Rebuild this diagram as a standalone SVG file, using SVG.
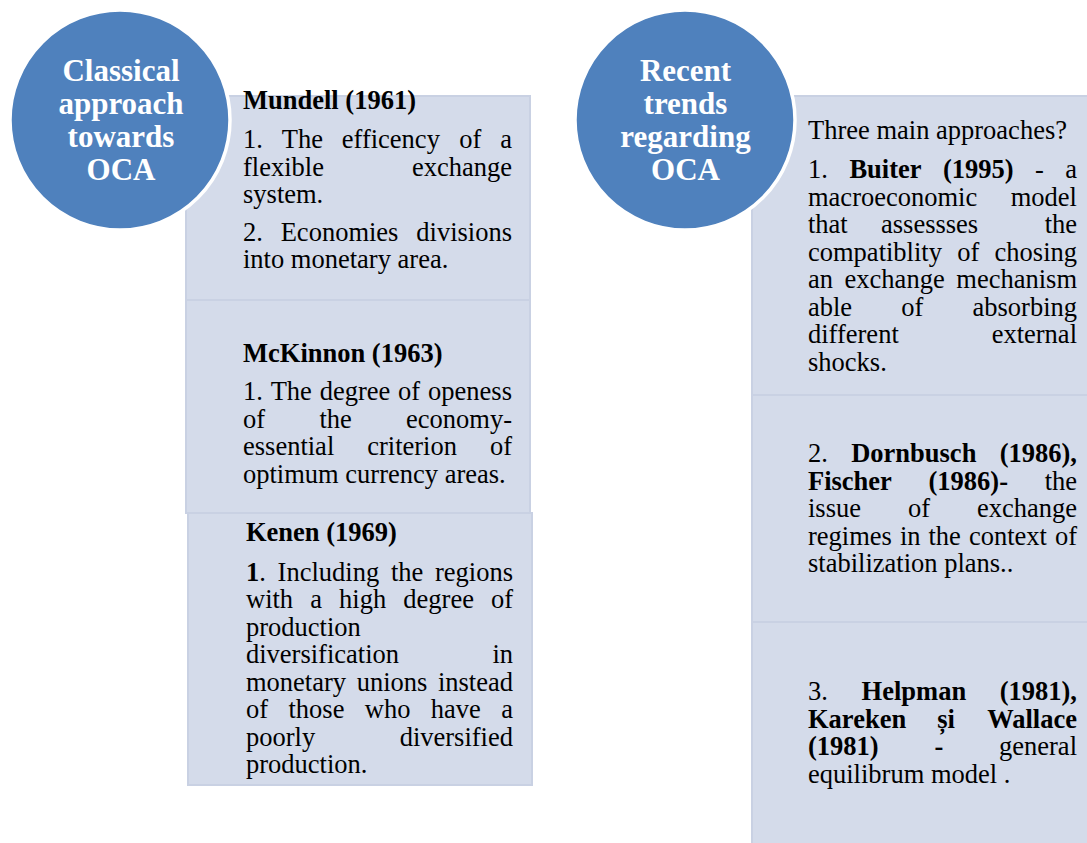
<svg xmlns="http://www.w3.org/2000/svg" width="1087" height="843" viewBox="0 0 1087 843">
<style>
.box{fill:#D4DBEA;stroke:#C9D1E3;stroke-width:2}
.circ{fill:#4F81BD;stroke:#FFFFFF;stroke-width:3.5}
.ct{font-family:"Liberation Serif","Times New Roman",serif;font-size:31px;font-weight:bold;fill:#FFFFFF;text-anchor:middle}
.t{font-family:"Liberation Serif","Times New Roman",serif;font-size:26.5px;fill:#000000}
.b{font-weight:bold}
.e{text-anchor:end}
</style>
<rect width="1087" height="843" fill="#FFFFFF"/>
<g id="connectors"/>

<g id="box-mundell">
<rect class="box" x="186" y="96" width="344" height="204"/>
<text class="t b" x="243" y="109">Mundell (1961)</text>
<text class="t" y="148"><tspan x="243">1.</tspan><tspan x="281.8">The</tspan><tspan x="341.8">efficency</tspan><tspan x="459.3">of</tspan></text>
<text class="t e" x="512" y="148">a</text>
<text class="t" x="243" y="175.5">flexible</text>
<text class="t e" x="512" y="175.5">exchange</text>
<text class="t" x="243" y="203">system.</text>
<text class="t" y="240.5"><tspan x="243">2.</tspan><tspan x="280.7">Economies</tspan></text>
<text class="t e" x="512" y="240.5">divisions</text>
<text class="t" x="243" y="268">into monetary area.</text>
</g>

<g id="box-mckinnon">
<rect class="box" x="186" y="300" width="344" height="213"/>
<text class="t b" x="243" y="362">McKinnon (1963)</text>
<text class="t" y="400"><tspan x="243">1.</tspan><tspan x="270.7">The</tspan><tspan x="319.7">degree</tspan><tspan x="398.1">of</tspan></text>
<text class="t e" x="512" y="400">openess</text>
<text class="t" y="427.5"><tspan x="243">of</tspan><tspan x="319.4">the</tspan></text>
<text class="t e" x="512" y="427.5">economy-</text>
<text class="t" y="455"><tspan x="243">essential</tspan><tspan x="367.2">criterion</tspan></text>
<text class="t e" x="512" y="455">of</text>
<text class="t" x="243" y="482.5">optimum currency areas.</text>
</g>

<g id="box-kenen">
<rect class="box" x="188" y="513" width="344" height="272"/>
<text class="t b" x="246" y="541">Kenen (1969)</text>
<text class="t" y="580.5"><tspan x="246" font-weight="bold">1</tspan><tspan>.</tspan><tspan x="277.6">Including</tspan><tspan x="390.9">the</tspan></text>
<text class="t e" x="513" y="580.5">regions</text>
<text class="t" y="608"><tspan x="246">with</tspan><tspan x="310.2">a</tspan><tspan x="339.1">high</tspan><tspan x="403.3">degree</tspan></text>
<text class="t e" x="513" y="608">of</text>
<text class="t" x="246" y="635.5">production</text>
<text class="t" x="246" y="663">diversification</text>
<text class="t e" x="513" y="663">in</text>
<text class="t" y="690.5"><tspan x="246">monetary</tspan><tspan x="356.7">unions</tspan></text>
<text class="t e" x="513" y="690.5">instead</text>
<text class="t" y="718"><tspan x="246">of</tspan><tspan x="288.5">those</tspan><tspan x="364.8">who</tspan><tspan x="430.8">have</tspan></text>
<text class="t e" x="513" y="718">a</text>
<text class="t" x="246" y="745.5">poorly</text>
<text class="t e" x="513" y="745.5">diversified</text>
<text class="t" x="246" y="773">production.</text>
</g>

<g id="circle-classical">
<circle class="circ" cx="120" cy="120" r="110"/>
<text class="ct" x="121" y="81">Classical</text>
<text class="ct" x="121" y="114">approach</text>
<text class="ct" x="121" y="147">towards</text>
<text class="ct" x="121" y="180">OCA</text>
</g>

<g id="box-buiter">
<rect class="box" x="752" y="96" width="340" height="299"/>
<text class="t" x="808" y="139">Three main approaches?</text>
<text class="t" y="178"><tspan x="808">1.</tspan><tspan x="849.4" font-weight="bold">Buiter</tspan><tspan x="942.9" font-weight="bold">(1995)</tspan><tspan x="1035">-</tspan></text>
<text class="t e" x="1077" y="178">a</text>
<text class="t" x="808" y="205.5">macroeconomic</text>
<text class="t e" x="1077" y="205.5">model</text>
<text class="t" y="233"><tspan x="808">that</tspan><tspan x="881">assessses</tspan></text>
<text class="t e" x="1077" y="233">the</text>
<text class="t" y="260.5"><tspan x="808">compatiblity</tspan><tspan x="957.3">of</tspan></text>
<text class="t e" x="1077" y="260.5">chosing</text>
<text class="t" y="288"><tspan x="808">an</tspan><tspan x="844.6">exchange</tspan></text>
<text class="t e" x="1077" y="288">mechanism</text>
<text class="t" y="315.5"><tspan x="808">able</tspan><tspan x="901.3">of</tspan></text>
<text class="t e" x="1077" y="315.5">absorbing</text>
<text class="t" x="808" y="343">different</text>
<text class="t e" x="1077" y="343">external</text>
<text class="t" x="808" y="370.5">shocks.</text>
</g>

<g id="box-dornbusch">
<rect class="box" x="752" y="395" width="340" height="227"/>
<text class="t" y="462"><tspan x="808">2.</tspan><tspan x="851.2" font-weight="bold">Dornbusch</tspan></text>
<text class="t b e" x="1077" y="462">(1986),</text>
<text class="t" y="489.5"><tspan x="808" font-weight="bold">Fischer</tspan><tspan x="928.5" font-weight="bold">(1986)-</tspan></text>
<text class="t e" x="1077" y="489.5">the</text>
<text class="t" y="517"><tspan x="808">issue</tspan><tspan x="907.9">of</tspan></text>
<text class="t e" x="1077" y="517">exchange</text>
<text class="t" y="544.5"><tspan x="808">regimes</tspan><tspan x="899.9">in</tspan><tspan x="928.5">the</tspan><tspan x="968.9">context</tspan></text>
<text class="t e" x="1077" y="544.5">of</text>
<text class="t" x="808" y="572">stabilization plans..</text>
</g>

<g id="box-helpman">
<rect class="box" x="752" y="622" width="340" height="230"/>
<text class="t" y="700"><tspan x="808">3.</tspan><tspan x="861.6" font-weight="bold">Helpman</tspan></text>
<text class="t b e" x="1077" y="700">(1981),</text>
<text class="t b" y="727.5"><tspan x="808">Kareken</tspan><tspan x="937.3">și</tspan></text>
<text class="t b e" x="1077" y="727.5">Wallace</text>
<text class="t" y="755"><tspan x="808" font-weight="bold">(1981)</tspan><tspan x="934.4" font-weight="bold">-</tspan></text>
<text class="t e" x="1077" y="755">general</text>
<text class="t" x="808" y="782.5">equilibrum model .</text>
</g>

<g id="circle-recent">
<circle class="circ" cx="685" cy="120" r="110"/>
<text class="ct" x="685.5" y="81">Recent</text>
<text class="ct" x="685.5" y="114">trends</text>
<text class="ct" x="685.5" y="147">regarding</text>
<text class="ct" x="685.5" y="180">OCA</text>
</g>
</svg>
